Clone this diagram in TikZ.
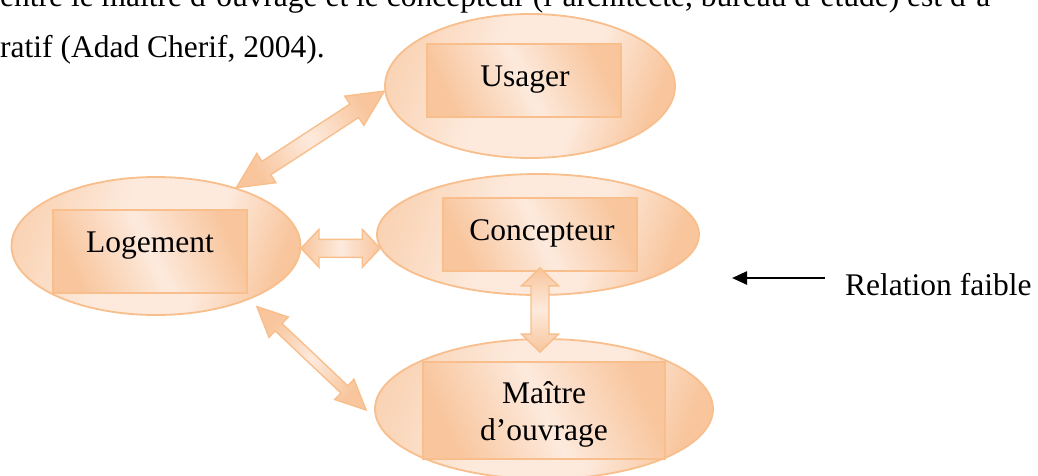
\documentclass[tikz,border=0pt]{standalone}
\usepackage{fontspec}
\setmainfont{Liberation Serif}
\usetikzlibrary{shapes.geometric,calc,arrows.meta}

\definecolor{peachline}{HTML}{F8BE8C}
\definecolor{peachdark}{HTML}{F8C59C}
\definecolor{peachmid}{HTML}{FAD5B8}
\definecolor{peachlight}{HTML}{FDEADD}

% colour bands used to fill the ovals, boxes and block arrows
\pgfdeclarehorizontalshading{peachband}{100bp}{color(0bp)=(peachdark); color(25bp)=(peachdark); color(50bp)=(peachlight); color(75bp)=(peachdark); color(100bp)=(peachdark)}
\pgfdeclarehorizontalshading{peachoval}{100bp}{color(0bp)=(peachdark); color(25bp)=(peachmid); color(42bp)=(peachlight); color(60bp)=(peachlight); color(75bp)=(peachdark); color(100bp)=(peachdark)}

\tikzset{
  oval/.style={ellipse, draw=peachline, line width=1.8pt, inner sep=0pt,
    shade, shading=peachoval, shading angle=-20},
  box/.style={rectangle, draw=peachline, line width=1.8pt, inner sep=0pt,
    shade, shading=peachband, shading angle=25},
  lbl/.style={inner sep=0pt, font=\fontsize{31.5}{37}\selectfont},
  arrowbody/.style={draw=peachline, line width=1.4pt, line join=miter,
    shade, shading=peachband},
  legendarrow/.style={line width=2.4pt, -{Triangle[length=15pt,width=13pt]}}
}

% double block arrow between #1 and #2:
% shaft half-width #3, head half-width #4, head length #5, extra options #6
\newcommand\blockarrow[6]{%
  \path[arrowbody,#6] (#1)
    -- ($(#1)!#5!(#2)!#4!90:(#2)$) -- ($(#1)!#5!(#2)!#3!90:(#2)$)
    -- ($(#2)!#5!(#1)!#3!-90:(#1)$) -- ($(#2)!#5!(#1)!#4!-90:(#1)$)
    -- (#2)
    -- ($(#2)!#5!(#1)!#4!90:(#1)$) -- ($(#2)!#5!(#1)!#3!90:(#1)$)
    -- ($(#1)!#5!(#2)!#3!-90:(#2)$) -- ($(#1)!#5!(#2)!#4!-90:(#2)$)
    -- cycle;}

\begin{document}
\begin{tikzpicture}[x=1pt,y=-1pt]
\useasboundingbox (0,0) rectangle (1038,475);
\begin{scope}
\clip (0,0) rectangle (1038,475);

% running text above the figure
\node[lbl, anchor=base west] (line1) at (0,6)
  {entre le maître d’ouvrage et le concepteur (l’architecte, bureau d’étude) est d’a};
\node[lbl, anchor=base west] (line2) at (0,57) {ratif (Adad Cherif, 2004).};

% the four actors
\node[oval, minimum width=290pt, minimum height=144pt] (usa) at (530,86) {};
\node[box, minimum width=194pt, minimum height=73pt] (usabox) at (524,80.5) {};
\node[lbl, anchor=base] (usatxt) at (525,86) {Usager};

\node[oval, minimum width=289pt, minimum height=138pt] (log) at (156,246) {};
\node[box, minimum width=194pt, minimum height=83pt] (logbox) at (150,251.5) {};
\node[lbl, anchor=base] (logtxt) at (150,252) {Logement};

\node[oval, minimum width=322pt, minimum height=121pt] (con) at (538,234.5) {};
\node[box, minimum width=194pt, minimum height=73pt] (conbox) at (540,234.5) {};
\node[lbl, anchor=base] (contxt) at (542,240) {Concepteur};

\node[oval, minimum width=338pt, minimum height=140pt] (mai) at (544,409) {};
\node[box, minimum width=242pt, minimum height=97pt] (maibox) at (544,410.5) {};
\node[lbl, anchor=base] (maitxt) at (544,403) {Maître};
\node[lbl, anchor=base] (maitxtb) at (544,440) {d’ouvrage};

% arrow ends lying just off the outlines
\coordinate (hleft) at (log.-2 |- con.185);
\coordinate (vtop) at ($(conbox.south)+(0,-4)$);
\coordinate (vbot) at ($(maibox.north -| conbox.south)+(0,-9)$);
\coordinate (ltop) at ($(log.-31)+(10,6)$);
\coordinate (lbot) at ($(mai.west)+(-8,1)$);

% relations
\blockarrow{log.36}{usa.182}{8pt}{17.5pt}{36pt}{shading angle=32}
\blockarrow{hleft}{con.185}{9pt}{19pt}{18pt}{shading angle=0}
\blockarrow{vtop}{vbot}{9pt}{18.5pt}{18pt}{shading angle=90}
\blockarrow{ltop}{lbot}{5pt}{14pt}{30pt}{shading angle=-44}

% legend
\node[lbl, anchor=base west] (rel) at (845,295) {Relation faible};
\coordinate (legtail) at (825,278);
\coordinate (legtip) at (732,278);
\draw[legendarrow] (legtail) -- (legtip);
\end{scope}
\end{tikzpicture}
\end{document}
